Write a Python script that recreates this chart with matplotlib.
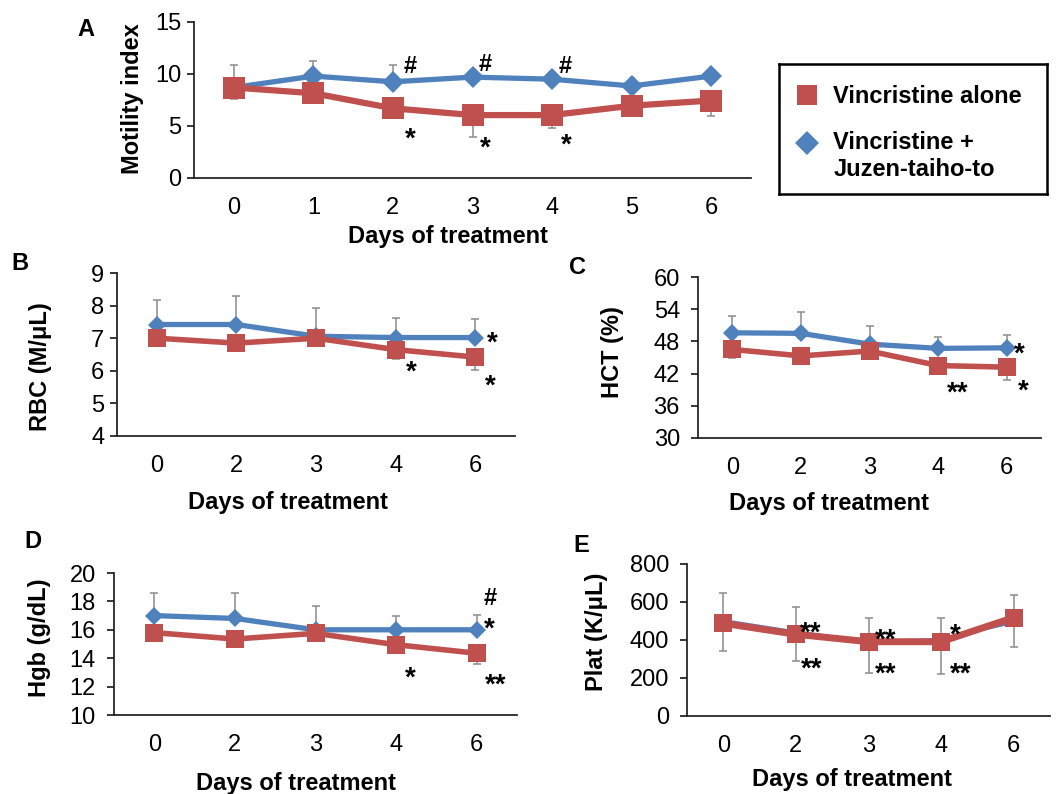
import matplotlib
matplotlib.use('Agg')
import matplotlib.pyplot as plt
from matplotlib.lines import Line2D
from matplotlib.legend_handler import HandlerLine2D
import numpy as np

plt.rcParams['font.family'] = ['Liberation Sans', 'DejaVu Sans']

RED = '#C0504D'
BLUE = '#4F81BD'
ERR = '#8C8C8C'
AXC = '#262626'

series_labels = ['Vincristine alone', 'Vincristine +\nJuzen-taiho-to']
x_title = 'Days of treatment'

# ---- Panel A: motility index
a_days = ['0', '1', '2', '3', '4', '5', '6']
a_alone = [8.7, 8.15, 6.7, 6.05, 6.05, 6.95, 7.45]
a_juzen = [8.7, 9.8, 9.25, 9.7, 9.5, 8.85, 9.8]
a_alone_err = [1.15, 0.8, 0.8, 2.15, 1.2, 0.8, 1.45]
a_juzen_err = [2.2, 1.45, 1.6, 0.3, 0.3, 0.3, 0.3]

# ---- Panel B: RBC
bcde_days = ['0', '2', '3', '4', '6']
b_alone = [7.0, 6.85, 7.0, 6.65, 6.42]
b_juzen = [7.42, 7.42, 7.06, 7.02, 7.02]
b_alone_err = [0.25, 0.25, 0.25, 0.3, 0.4]
b_juzen_err = [0.76, 0.88, 0.88, 0.6, 0.58]

# ---- Panel C: HCT
c_alone = [46.5, 45.3, 46.2, 43.5, 43.2]
c_juzen = [49.6, 49.5, 47.5, 46.7, 46.8]
c_alone_err = [1.5, 1.5, 1.5, 1.5, 2.3]
c_juzen_err = [3.1, 3.95, 3.4, 2.2, 2.3]

# ---- Panel D: Hgb
d_alone = [15.8, 15.35, 15.75, 14.95, 14.35]
d_juzen = [17.0, 16.8, 16.0, 16.0, 16.0]
d_alone_err = [0.5, 0.5, 0.5, 0.5, 0.75]
d_juzen_err = [1.6, 1.8, 1.65, 0.95, 1.05]

# ---- Panel E: platelets
e_alone = [488, 430, 391, 391, 518]
e_juzen = [505, 445, 395, 405, 490]
e_alone_err = [145, 140, 164, 171, 153]
e_juzen_err = [145, 131, 123, 110, 146]

W, H = 1056, 794
fig = plt.figure(figsize=(W / 100, H / 100), dpi=100)


def px_axes(l, t, r, b):
    return fig.add_axes([l / W, 1 - b / H, (r - l) / W, (b - t) / H])


def panel(ax, days, alone, juzen, aerr, jerr, ylim, yticks, ylabel,
          ylab_xy, xlab_xy, red_lw, red_ms, blue_lw, blue_ms, ypad):
    x = np.arange(len(days))
    z = np.zeros(len(days))
    ax.errorbar(x, juzen, yerr=[z, jerr], fmt='none', ecolor=ERR,
                elinewidth=1.1, capsize=2.8, capthick=1.1, zorder=1)
    ax.errorbar(x, alone, yerr=[aerr, z], fmt='none', ecolor=ERR,
                elinewidth=1.1, capsize=2.8, capthick=1.1, zorder=1)
    ax.plot(x, juzen, color=BLUE, lw=blue_lw, marker='D', ms=blue_ms,
            mec=BLUE, mew=0, zorder=3)
    ax.plot(x, alone, color=RED, lw=red_lw, marker='s', ms=red_ms,
            mec=RED, mew=0, zorder=4)
    ax.set_xlim(-0.5, len(days) - 0.5)
    ax.set_ylim(*ylim)
    ax.set_yticks(yticks)
    ax.set_xticks(x)
    ax.set_xticklabels(days)
    for s in ['top', 'right']:
        ax.spines[s].set_visible(False)
    for s in ['left', 'bottom']:
        ax.spines[s].set_linewidth(1.3)
        ax.spines[s].set_color(AXC)
    ax.tick_params(axis='x', length=0, pad=14, labelsize=17, colors='black')
    ax.tick_params(axis='y', length=5, width=1.3, pad=ypad, labelsize=17,
                   direction='out', color=AXC, labelcolor='black')
    ax.set_ylabel(ylabel, fontsize=17, fontweight='bold')
    ax.yaxis.set_label_coords(*ylab_xy)
    ax.yaxis.label.set_verticalalignment('center')
    ax.set_xlabel(x_title, fontsize=17, fontweight='bold')
    ax.xaxis.set_label_coords(*xlab_xy)
    ax.xaxis.label.set_verticalalignment('center')
    ax.patch.set_alpha(0)


def marks(ax, items):
    for s, xv, yv in items:
        if s == '#':
            fs, k = 17, 0.35
        else:
            fs, k = 20, 0.62
        ax.annotate(s, (xv, yv), xytext=(0, -k * fs), textcoords='offset points',
                    ha='center', va='baseline', fontsize=fs, fontweight='bold',
                    zorder=6, annotation_clip=False)


axA = px_axes(194, 22, 751, 178)
panel(axA, a_days, a_alone, a_juzen, a_alone_err, a_juzen_err, (0, 15),
      [0, 5, 10, 15], 'Motility index', (-0.11, 0.51), (0.456, -0.378),
      4.5, 16.5, 3.8, 11.5, 4)
marks(axA, [('#', 2.215, 10.87), ('#', 3.165, 11.06), ('#', 4.17, 10.87),
            ('*', 2.215, 4.71), ('*', 3.165, 3.85), ('*', 4.175, 4.13)])

axB = px_axes(117, 273, 515, 436)
panel(axB, bcde_days, b_alone, b_juzen, b_alone_err, b_juzen_err, (4, 9),
      [4, 5, 6, 7, 8, 9], 'RBC (M/\u03bcL)', (-0.193, 0.425), (0.429, -0.407),
      4.0, 13.0, 3.8, 9.0, 4)
marks(axB, [('*', 3.194, 6.27), ('*', 4.22, 7.16), ('*', 4.186, 5.83)])

axC = px_axes(698, 277, 1041, 438)
panel(axC, bcde_days, c_alone, c_juzen, c_alone_err, c_juzen_err, (30, 60),
      [30, 36, 42, 48, 54, 60], 'HCT (%)', (-0.248, 0.536), (0.381, -0.406),
      4.0, 13.0, 3.8, 9.0, 8)
marks(axC, [('**', 3.29, 40.23), ('*', 4.19, 47.53), ('*', 4.24, 40.47)])

axD = px_axes(114, 573, 517, 715)
panel(axD, bcde_days, d_alone, d_juzen, d_alone_err, d_juzen_err, (10, 20),
      [10, 12, 14, 16, 18, 20], 'Hgb (g/dL)', (-0.184, 0.542), (0.451, -0.481),
      4.0, 13.5, 3.8, 9.0, 8)
marks(axD, [('*', 3.17, 13.3), ('#', 4.165, 18.35), ('*', 4.15, 16.75),
            ('**', 4.23, 12.82)])

axE = px_axes(687, 564, 1050, 716)
panel(axE, bcde_days, e_alone, e_juzen, e_alone_err, e_juzen_err, (0, 800),
      [0, 200, 400, 600, 800], 'Plat (K/\u03bcL)', (-0.248, 0.555), (0.454, -0.421),
      5.0, 13.5, 1.5, 3.0, 8)
marks(axE, [('**', 1.208, 488), ('**', 1.218, 298), ('**', 2.24, 453),
            ('**', 2.24, 273), ('*', 3.19, 479), ('**', 3.27, 273)])

# panel letters
for letter, (px, py) in zip('ABCDE', [(86, 29), (20, 263), (578, 267), (33, 542), (581, 545)]):
    fig.text(px / W, 1 - py / H, letter, fontsize=17, fontweight='bold',
             ha='center', va='center')


class ShiftedHandler(HandlerLine2D):
    def __init__(self, dy=0.0, **kw):
        super().__init__(**kw)
        self.dy = dy

    def create_artists(self, legend, orig_handle, xdescent, ydescent, width,
                       height, fontsize, trans):
        arts = super().create_artists(legend, orig_handle, xdescent, ydescent,
                                      width, height, fontsize, trans)
        for a in arts:
            a.set_ydata(np.asarray(a.get_ydata(), dtype=float) + self.dy)
        return arts


# legend box
axL = px_axes(779, 64, 1047, 194)
axL.set_xticks([])
axL.set_yticks([])
for s in axL.spines.values():
    s.set_linewidth(1.8)
    s.set_color('black')
h_red = Line2D([], [], ls='none', marker='s', ms=15, color=RED, mew=0)
h_blue = Line2D([], [], ls='none', marker='D', ms=12.5, color=BLUE, mew=0)
axL.legend([h_red, h_blue], series_labels, loc='center left',
           bbox_to_anchor=(0.0, 0.47), frameon=False,
           prop={'size': 17, 'weight': 'bold'},
           handler_map={h_blue: ShiftedHandler(dy=10)},
           handlelength=1.0, handletextpad=0.6, labelspacing=1.0, borderaxespad=0.3)

fig.savefig('out.png', dpi=100)
